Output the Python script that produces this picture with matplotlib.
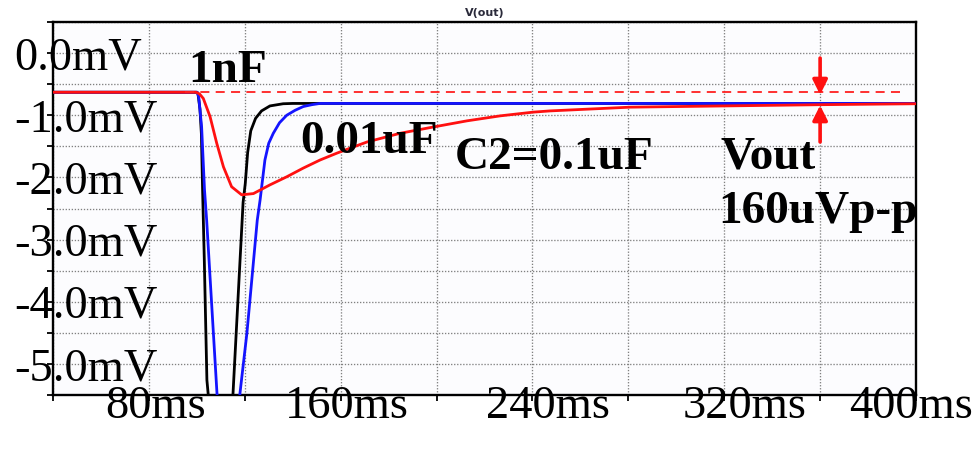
import matplotlib
matplotlib.use("Agg")
import matplotlib.pyplot as plt
from matplotlib.transforms import ScaledTranslation

plt.rcParams['font.family'] = ['Liberation Serif', 'DejaVu Serif']

# Time axis in ms, voltage in mV
x_ticks = [80, 160, 240, 320, 400]
x_labels = ["80ms", "160ms", "240ms", "320ms", "400ms"]
x_minor = [40, 120, 200, 280, 360]
y_ticks = [0.0, -1.0, -2.0, -3.0, -4.0, -5.0]
y_labels = ["0.0mV", "-1.0mV", "-2.0mV", "-3.0mV", "-4.0mV", "-5.0mV"]
y_minor = [0.5, -0.5, -1.5, -2.5, -3.5, -4.5, -5.5]

# C2 = 1nF (black)
t_1n = [40, 100.0, 100.5, 101.3, 101.9, 102.4, 103.1, 104.2, 104.7, 110.0,
        115.1, 119.3, 120.2, 121.2, 122.5, 124.5, 127.0, 130.5, 136.0, 140.0, 400]
v_1n = [-0.63, -0.63, -0.66, -0.90, -1.30, -2.20, -3.30, -5.26, -5.47, -8.0,
        -5.47, -2.40, -2.10, -1.60, -1.25, -1.05, -0.93, -0.85, -0.815, -0.81, -0.81]

# C2 = 0.01uF (blue)
t_10n = [40, 100.2, 100.8, 102.0, 103.2, 104.1, 108.4, 113.0, 118.0, 120.9,
         125.2, 126.4, 128.4, 130.0, 131.9, 134.5, 137.5, 141.0, 144.4, 148.0, 151.4, 400]
v_10n = [-0.63, -0.63, -0.71, -1.19, -2.20, -2.69, -5.47, -8.0, -5.47, -4.50,
         -2.69, -2.36, -1.72, -1.45, -1.29, -1.12, -1.00, -0.92, -0.86, -0.83, -0.81, -0.81]

# C2 = 0.1uF (red)
t_100n = [40, 99.5, 100.3, 101.2, 102.7, 105.5, 108.3, 111.1, 114.5, 118.7,
          123.6, 130.5, 137.5, 144.4, 151.4, 158.4, 163.9, 171.0, 184.8, 198.5,
          212.7, 226.5, 240.3, 247.4, 280.7, 320.3, 360.4, 400]
v_100n = [-0.63, -0.63, -0.64, -0.66, -0.73, -1.02, -1.45, -1.83, -2.15, -2.28,
          -2.26, -2.12, -1.99, -1.85, -1.72, -1.61, -1.53, -1.43, -1.29, -1.19,
          -1.09, -1.01, -0.95, -0.93, -0.87, -0.85, -0.83, -0.815]

ref_level = -0.63      # dashed red reference line
ref_span = [95, 395.5]
pp_x = 360             # where the p-p arrows sit
pp_top = [-0.08, -0.67]
pp_bottom = [-1.43, -0.84]

fig = plt.figure(figsize=(9.76, 4.74), dpi=100)
fig.patch.set_facecolor("white")
ax = fig.add_axes([53 / 976, 1 - 395 / 474, (916 - 53) / 976, (395 - 22) / 474])
ax.set_facecolor("#fcfcfe")

ax.set_xlim(40, 400)
ax.set_ylim(-5.5, 0.5)

# grid in LTspice dotted style
ax.set_xticks(x_ticks, x_labels)
ax.set_xticks(x_minor, minor=True)
ax.set_yticks(y_ticks, y_labels)
ax.set_yticks(y_minor, minor=True)
ax.grid(True, which="both", color="#808080", linestyle=(0, (1, 1.3)), linewidth=0.95)
for tk in ax.yaxis.get_minor_ticks():
    if abs(tk.get_loc() + 0.5) < 1e-6:
        tk.gridline.set_visible(False)
ax.set_axisbelow(True)

ax.plot(t_1n, v_1n, color="black", lw=2.0, zorder=3)
ax.plot(t_10n, v_10n, color="#1414ff", lw=2.0, zorder=4)
ax.plot(t_100n, v_100n, color="#ff1010", lw=2.0, zorder=5)
ax.hlines(ref_level, ref_span[0], ref_span[1], colors="#ff2020", lw=1.3,
          linestyles=(0, (5, 3.5)), zorder=5)

arrow = dict(arrowstyle="-|>", color="#ff1010", lw=2.6, mutation_scale=22,
             shrinkA=0, shrinkB=0)
ax.annotate("", xy=(pp_x, pp_top[1]), xytext=(pp_x, pp_top[0]), arrowprops=arrow, zorder=6)
ax.annotate("", xy=(pp_x, pp_bottom[1]), xytext=(pp_x, pp_bottom[0]), arrowprops=arrow, zorder=6)

for side in ["left", "right", "top", "bottom"]:
    ax.spines[side].set_linewidth(1.7)
    ax.spines[side].set_color("black")

ax.tick_params(axis="both", which="both", direction="out", length=4, width=1.3,
               color="black", labelsize=33.5)
ax.tick_params(axis="x", which="major", pad=-11.0)
ax.tick_params(axis="y", which="major", pad=23.8)
for lbl in ax.get_yticklabels():
    lbl.set_horizontalalignment("left")

# the hand-placed time labels sit a little off their ticks in the screenshot
x_nudge = [5, 4.3, 11.5, 15, -3.6]
for lbl, dx in zip(ax.get_xticklabels(), x_nudge):
    lbl.set_transform(lbl.get_transform() + ScaledTranslation(dx / 72, 0, fig.dpi_scale_trans))
for lbl in ax.get_xticklabels() + ax.get_yticklabels():
    lbl.set_zorder(10)

ax.set_title("V(out)", fontsize=8, fontweight="bold", family="DejaVu Sans",
             color="#2a2a3a", pad=4)

bold = dict(fontsize=34, fontweight="bold", color="black", va="baseline", ha="left", zorder=8)
ax.text(96.3, -0.47, "1nF", **bold)
ax.text(143.0, -1.60, "0.01uF", **bold)
ax.text(207.7, -1.87, "C2=0.1uF", **bold)
ax.text(318.3, -1.86, "Vout", **bold)
ax.text(317.4, -2.73, "160uVp-p", clip_on=False, **bold)

fig.savefig("out.png", dpi=100)
